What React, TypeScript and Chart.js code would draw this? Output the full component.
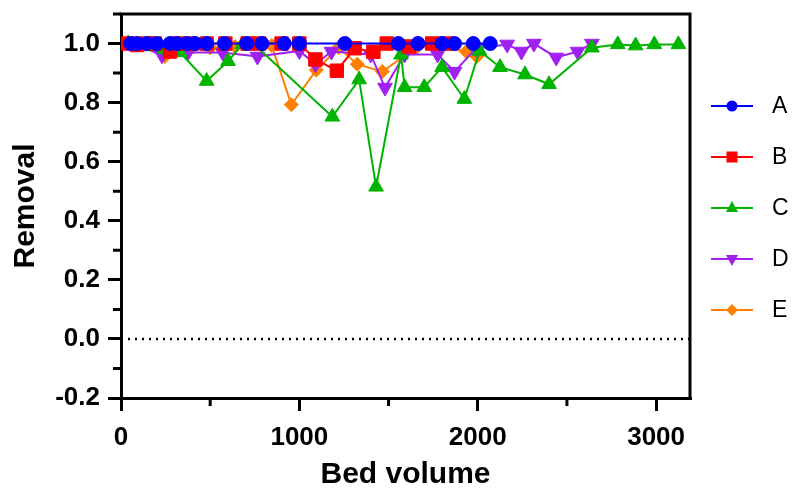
import React, { useEffect, useRef } from 'react';
import { Chart, registerables } from 'chart.js';

Chart.register(...registerables);

// ---- Data ----
const aX = [55, 90, 145, 200, 275, 315, 370, 415, 480, 580, 705, 790, 915, 1000, 1255, 1555, 1665, 1800, 1870, 1975, 2070];
const aY = [1.0, 1.0, 1.0, 1.0, 1.0, 1.0, 1.0, 1.0, 1.0, 1.0, 1.0, 1.0, 1.0, 1.0, 1.0, 1.0, 1.0, 1.0, 1.0, 1.0, 1.0];

const bX = [40, 90, 140, 190, 275, 320, 385, 480, 585, 710, 775, 900, 1000, 1090, 1210, 1310, 1415, 1490, 1615, 1745, 1825];
const bY = [1.0, 0.995, 1.0, 1.0, 0.973, 1.0, 1.0, 1.0, 1.0, 1.0, 1.0, 1.0, 1.0, 0.946, 0.908, 0.984, 0.972, 1.0, 0.99, 1.0, 1.0];

const cX = [40, 160, 245, 330, 480, 600, 680, 750, 1185, 1335, 1430, 1570, 1590, 1700, 1800, 1925, 2010, 2125, 2265, 2400, 2640, 2785, 2885, 2990, 3125];
const cY = [1.0, 0.99, 0.98, 0.97, 0.873, 0.94, 0.997, 0.995, 0.752, 0.878, 0.515, 0.962, 0.852, 0.852, 0.92, 0.812, 0.975, 0.92, 0.895, 0.862, 0.986, 0.997, 0.993, 0.997, 0.997];

const dX = [80, 230, 375, 570, 765, 1000, 1090, 1180, 1400, 1480, 1590, 1775, 1870, 1990, 2165, 2245, 2315, 2440, 2560, 2640];
const dY = [1.0, 0.96, 0.97, 0.97, 0.956, 0.975, 0.93, 0.973, 0.963, 0.851, 0.963, 0.963, 0.905, 0.983, 0.997, 0.973, 1.0, 0.953, 0.973, 1.0];

const eX = [40, 135, 245, 375, 500, 640, 845, 955, 1095, 1220, 1325, 1465, 1655, 1785, 1935, 1995];
const eY = [1.0, 1.0, 0.956, 0.973, 0.986, 0.99, 0.993, 0.793, 0.91, 0.986, 0.93, 0.905, 0.986, 0.99, 0.973, 0.956];

const seriesLabels = ['A', 'B', 'C', 'D', 'E'];
const seriesColors = ['#0000FF', '#FF0000', '#00B400', '#A020F0', '#FF8000'];

const xMin = 0;
const xMax = 3190;
const yMin = -0.2;
const yMax = 1.1;
const xTickValues = [0, 1000, 2000, 3000];
const yTickValues = [-0.2, 0, 0.2, 0.4, 0.6, 0.8, 1.0];
const xMinorTicks = [500, 1500, 2500];
const yMinorTicks = [-0.1, 0.1, 0.3, 0.5, 0.7, 0.9, 1.1];
const zeroLineX = [0, 3190];

const FONT = "'Liberation Sans', Arial, sans-serif";

const toPts = (xs: number[], ys: number[]) => xs.map((x, i) => ({ x, y: ys[i] }));

function drawMarker(ctx: CanvasRenderingContext2D, kind: number, x: number, y: number, color: string) {
  ctx.save();
  ctx.fillStyle = color;
  ctx.beginPath();
  if (kind === 0) {
    ctx.arc(x, y, 5.5, 0, Math.PI * 2);
  } else if (kind === 1) {
    ctx.rect(x - 5.5, y - 5.5, 11, 11);
  } else if (kind === 2) {
    ctx.moveTo(x, y - 7);
    ctx.lineTo(x + 6, y + 4);
    ctx.lineTo(x - 6, y + 4);
    ctx.closePath();
  } else if (kind === 3) {
    ctx.moveTo(x, y + 7);
    ctx.lineTo(x + 6, y - 4);
    ctx.lineTo(x - 6, y - 4);
    ctx.closePath();
  } else {
    ctx.moveTo(x, y - 6);
    ctx.lineTo(x + 6, y);
    ctx.lineTo(x, y + 6);
    ctx.lineTo(x - 6, y);
    ctx.closePath();
  }
  ctx.fill();
  ctx.restore();
}

const framePlugin = {
  id: 'frameAndLegend',
  afterDraw(chart: any) {
    const ctx: CanvasRenderingContext2D = chart.ctx;
    const area = chart.chartArea;
    const xs = chart.scales.x;
    const ys = chart.scales.y;
    ctx.save();
    ctx.strokeStyle = '#000';
    ctx.lineWidth = 3;
    ctx.beginPath();
    ctx.moveTo(area.left - 1.5, area.top);
    ctx.lineTo(area.right, area.top);
    ctx.lineTo(area.right, area.bottom + 1.5);
    ctx.stroke();
    ctx.beginPath();
    yMinorTicks.forEach((v) => {
      const py = ys.getPixelForValue(v);
      ctx.moveTo(area.left - 8, py);
      ctx.lineTo(area.left, py);
    });
    xMinorTicks.forEach((v) => {
      const px = xs.getPixelForValue(v);
      ctx.moveTo(px, area.bottom);
      ctx.lineTo(px, area.bottom + 8);
    });
    ctx.stroke();
    ctx.restore();

    const x0 = area.right + 21;
    const x1 = area.right + 63;
    const xm = (x0 + x1) / 2;
    const xt = area.right + 82;
    const cy = (area.top + area.bottom) / 2 + 2;
    seriesLabels.forEach((lab, i) => {
      const y = cy + (i - 2) * 51;
      ctx.save();
      ctx.strokeStyle = seriesColors[i];
      ctx.lineWidth = 2;
      ctx.beginPath();
      ctx.moveTo(x0, y);
      ctx.lineTo(x1, y);
      ctx.stroke();
      ctx.restore();
      drawMarker(ctx, i, xm, y, seriesColors[i]);
      ctx.save();
      ctx.fillStyle = '#000';
      ctx.font = `23px ${FONT}`;
      ctx.textBaseline = 'middle';
      ctx.textAlign = 'left';
      ctx.fillText(lab, xt, y + 1);
      ctx.restore();
    });
  },
};

export default function App() {
  const ref = useRef<HTMLCanvasElement>(null);

  useEffect(() => {
    const canvas = ref.current;
    if (!canvas) return;
    const mk = (i: number, xs: number[], ys: number[], style: string, radius: number, rotation = 0) => ({
      label: seriesLabels[i],
      data: toPts(xs, ys),
      showLine: true,
      borderColor: seriesColors[i],
      backgroundColor: seriesColors[i],
      borderWidth: 2,
      pointStyle: style,
      pointRadius: radius,
      pointRotation: rotation,
      pointBorderWidth: 1,
      pointBorderColor: seriesColors[i],
      pointBackgroundColor: seriesColors[i],
      tension: 0,
    });
    const chart = new Chart(canvas, {
      type: 'scatter',
      data: {
        datasets: [
          mk(0, aX, aY, 'circle', 7),
          mk(1, bX, bY, 'rect', 9.5),
          mk(2, cX, cY, 'triangle', 8.5),
          mk(3, dX, dY, 'triangle', 8.5, 180),
          mk(4, eX, eY, 'rectRot', 7),
          {
            label: 'zero',
            data: zeroLineX.map((x) => ({ x, y: 0 })),
            showLine: true,
            borderColor: '#000',
            borderWidth: 2.5,
            borderDash: [2, 5],
            pointRadius: 0,
          } as any,
        ],
      },
      options: {
        animation: false,
        responsive: false,
        devicePixelRatio: 1,
        layout: { autoPadding: false, padding: { top: 6, right: 99, left: 0, bottom: 0 } },
        plugins: {
          legend: { display: false },
          tooltip: { enabled: false },
        },
        scales: {
          x: {
            type: 'linear',
            min: xMin,
            max: xMax,
            afterBuildTicks: (s: any) => {
              s.ticks = xTickValues.map((v) => ({ value: v }));
            },
            afterFit: (s: any) => {
              s.height = 87;
              s.paddingLeft = 0;
              s.paddingRight = 0;
              s.paddingTop = 0;
              s.paddingBottom = 0;
            },
            border: { display: true, color: '#000', width: 3 },
            grid: {
              display: true,
              drawOnChartArea: false,
              drawTicks: true,
              tickLength: 13,
              color: '#000',
              tickColor: '#000',
              tickWidth: 3,
              lineWidth: 3,
            },
            ticks: {
              autoSkip: false,
              color: '#000',
              padding: 11,
              maxRotation: 0,
              font: { family: FONT, size: 26, weight: 'bold' },
              callback: (v: any) => String(v),
            },
            title: {
              display: true,
              text: 'Bed volume',
              color: '#000',
              font: { family: FONT, size: 30, weight: 'bold', lineHeight: 0.7 },
              padding: { top: 0, bottom: 0 },
            },
          },
          y: {
            type: 'linear',
            min: yMin,
            max: yMax,
            afterBuildTicks: (s: any) => {
              s.ticks = yTickValues.map((v) => ({ value: v }));
            },
            afterFit: (s: any) => {
              s.width = 113;
              s.paddingTop = 0;
              s.paddingBottom = 0;
              s.paddingLeft = 0;
              s.paddingRight = 0;
            },
            border: { display: true, color: '#000', width: 3 },
            grid: {
              display: true,
              drawOnChartArea: false,
              drawTicks: true,
              tickLength: 13,
              color: '#000',
              tickColor: '#000',
              tickWidth: 3,
              lineWidth: 3,
            },
            ticks: {
              autoSkip: false,
              color: '#000',
              padding: 8,
              font: { family: FONT, size: 26, weight: 'bold' },
              callback: (v: any) => {
                const n = Math.round(Number(v) * 10) / 10;
                return (n === 0 ? 0 : n).toFixed(1);
              },
            },
            title: {
              display: true,
              text: 'Removal',
              color: '#000',
              font: { family: FONT, size: 30, weight: 'bold', lineHeight: 0.8 },
              padding: { top: 6, bottom: 0 },
            },
          },
        },
      } as any,
      plugins: [framePlugin],
    });
    return () => chart.destroy();
  }, []);

  return (
    <div style={{ width: 781, height: 477 }}>
      <canvas ref={ref} width={781} height={477} style={{ display: 'block', width: 781, height: 477 }} />
    </div>
  );
}
